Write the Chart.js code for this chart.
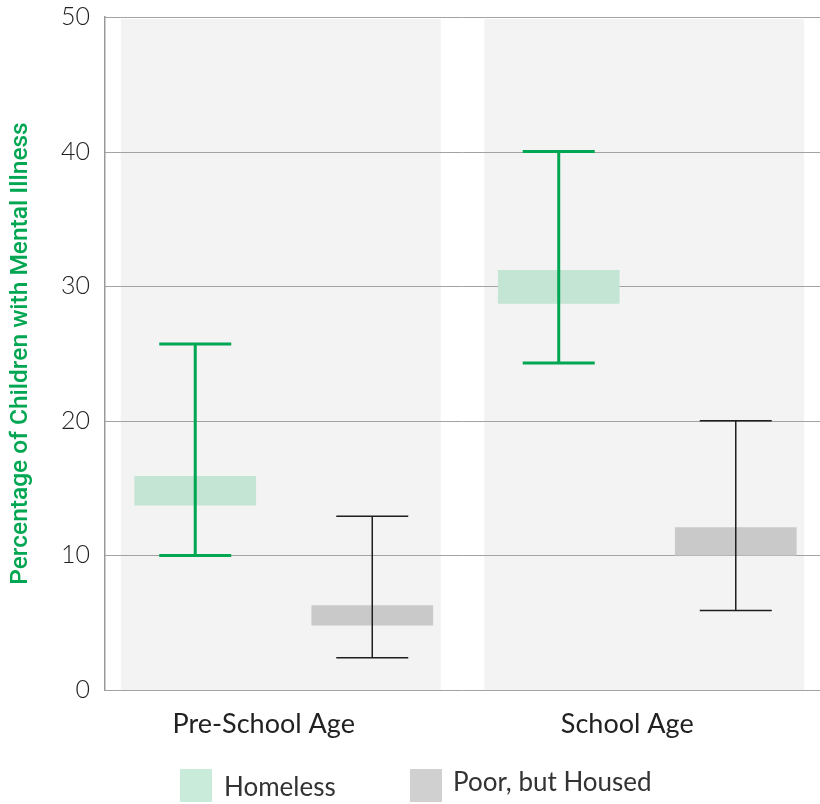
<!DOCTYPE html>
<html>
<head>
<meta charset="utf-8">
<script src="https://cdn.jsdelivr.net/npm/chart.js@4"></script>
<style>
  html, body { margin: 0; padding: 0; background: #fff; }
  #wrap { width: 820px; height: 804px; position: relative; }
</style>
</head>
<body>
<div id="wrap"><canvas id="chart"></canvas></div>
<script>
// data
const categories = ['Pre-School Age', 'School Age'];
const seriesNames = ['Homeless', 'Poor, but Housed'];
const homelessLow = [13.7, 28.7];
const homelessHigh = [15.9, 31.2];
const poorLow = [4.8, 10.0];
const poorHigh = [6.3, 12.1];
const homelessErrLow = [10, 24.3];
const homelessErrHigh = [25.7, 40];
const poorErrLow = [2.4, 5.9];
const poorErrHigh = [12.9, 20];
const yTicks = [0, 10, 20, 30, 40, 50];

const GREEN = '#00a651';
const COLORS = {
  homeless: '#c4e5d4',
  poor: '#c9c9c9',
  homelessLegend: '#c8ecd9',
  poorLegend: '#d0d0d0',
  band: '#f3f3f3',
  grid: '#a3a3a3'
};

// the source plot runs a little past the right edge and close to the top
const fixArea = {
  id: 'fixArea',
  afterLayout(chart) {
    const x = chart.scales.x;
    x.left = 102;
    x.right = 829;
    x.width = x.right - x.left;
    x.configure();
    const y = chart.scales.y;
    y.top = 17;
    y.height = y.bottom - y.top;
    y.configure();
    chart.chartArea.top = 17;
    chart.chartArea.height = chart.chartArea.bottom - 17;
  }
};

// gray band behind each category
const bandPlugin = {
  id: 'bands',
  beforeDatasetsDraw(chart) {
    const { ctx, chartArea, scales } = chart;
    const x = scales.x;
    const w = x.width / categories.length * 0.88;
    ctx.save();
    ctx.fillStyle = COLORS.band;
    categories.forEach((c, i) => {
      const cx = x.getPixelForValue(i) - 3;
      ctx.fillRect(cx - w / 2, chartArea.top + 2, w, chartArea.bottom - chartArea.top - 2);
    });
    ctx.restore();
  }
};

// grid on top of the bands
const gridPlugin = {
  id: 'gridOver',
  beforeDatasetsDraw(chart) {
    const { ctx, chartArea, scales } = chart;
    const y = scales.y;
    ctx.save();
    ctx.strokeStyle = COLORS.grid;
    ctx.lineWidth = 1;
    yTicks.forEach(v => {
      const py = Math.round(y.getPixelForValue(v)) + 0.5;
      ctx.beginPath();
      ctx.moveTo(chartArea.left, py);
      ctx.lineTo(chart.width, py);
      ctx.stroke();
    });
    ctx.restore();
  }
};

// error bars
const errorPlugin = {
  id: 'errorBars',
  afterDatasetsDraw(chart) {
    const { ctx, scales } = chart;
    const y = scales.y;
    const sets = [
      { lo: homelessErrLow, hi: homelessErrHigh, color: GREEN, lw: 3 },
      { lo: poorErrLow, hi: poorErrHigh, color: '#1e1e1e', lw: 1.5 }
    ];
    const cap = 36;
    ctx.save();
    sets.forEach((s, di) => {
      const meta = chart.getDatasetMeta(di);
      meta.data.forEach((bar, i) => {
        const px = bar.x;
        const top = y.getPixelForValue(s.hi[i]);
        const bot = y.getPixelForValue(s.lo[i]);
        ctx.strokeStyle = s.color;
        ctx.lineWidth = s.lw;
        ctx.beginPath();
        ctx.moveTo(px, top);
        ctx.lineTo(px, bot);
        ctx.moveTo(px - cap, top);
        ctx.lineTo(px + cap, top);
        ctx.moveTo(px - cap, bot);
        ctx.lineTo(px + cap, bot);
        ctx.stroke();
      });
    });
    ctx.restore();
  }
};

// legend drawn at the bottom
const legendPlugin = {
  id: 'bottomLegend',
  afterDraw(chart) {
    const { ctx } = chart;
    const items = [
      { text: seriesNames[0], color: COLORS.homelessLegend, x: 180, tx: 224, ty: 788 },
      { text: seriesNames[1], color: COLORS.poorLegend, x: 410, tx: 453, ty: 783 }
    ];
    ctx.save();
    ctx.font = '400 26px Lato';
    ctx.textBaseline = 'middle';
    items.forEach(it => {
      ctx.fillStyle = it.color;
      ctx.fillRect(it.x, 769, 32, 33);
      ctx.fillStyle = '#333';
      ctx.fillText(it.text, it.tx, it.ty);
    });
    ctx.restore();
  }
};

new Chart(document.getElementById('chart'), {
  type: 'bar',
  data: {
    labels: categories,
    datasets: [
      {
        label: seriesNames[0],
        data: homelessLow.map((v, i) => [v, homelessHigh[i]]),
        backgroundColor: COLORS.homeless,
        borderWidth: 0,
        categoryPercentage: 0.974,
        barPercentage: 0.6875
      },
      {
        label: seriesNames[1],
        data: poorLow.map((v, i) => [v, poorHigh[i]]),
        backgroundColor: COLORS.poor,
        borderWidth: 0,
        categoryPercentage: 0.974,
        barPercentage: 0.6875
      }
    ]
  },
  options: {
    responsive: true,
    maintainAspectRatio: false,
    animation: false,
    layout: { padding: { top: 4, right: 0, left: 0, bottom: 0 } },
    plugins: {
      legend: { display: false },
      tooltip: { enabled: false }
    },
    scales: {
      x: {
        grid: { display: false },
        border: { display: false },
        ticks: {
          color: '#222',
          font: { family: 'Lato', size: 27 },
          padding: 10,
          labelOffset: -20
        },
        afterFit: s => { s.height = 114; }
      },
      y: {
        min: 0,
        max: 50,
        afterBuildTicks: s => { s.ticks = yTicks.map(v => ({ value: v })); },
        grid: { display: false, drawTicks: false },
        border: { display: true, color: '#999', width: 1.5 },
        ticks: {
          color: '#222',
          font: { family: 'Lato', size: 25, weight: 300 },
          padding: 15
        },
        title: {
          display: true,
          text: 'Percentage of Children with Mental Illness',
          color: GREEN,
          font: { family: 'Roboto', size: 24.5, weight: 500 },
          padding: { top: 6, bottom: 0 }
        },
        afterFit: s => { s.width = 105; }
      }
    }
  },
  plugins: [fixArea, bandPlugin, gridPlugin, errorPlugin, legendPlugin]
});
</script>
</body>
</html>
